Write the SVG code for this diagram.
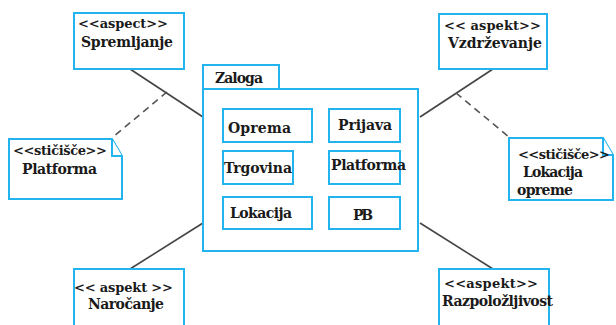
<svg xmlns="http://www.w3.org/2000/svg" width="616" height="325" viewBox="0 0 616 325">
<style>
.b{fill:#fff;stroke:#22b4ee;stroke-width:2}
.t{font-family:"DejaVu Serif","Liberation Serif",serif;font-weight:bold;font-size:14px;fill:#1a1a1a}
.s{font-family:"DejaVu Serif","Liberation Serif",serif;font-weight:bold;font-size:13px;fill:#1a1a1a}
.c{stroke:#444;stroke-width:1.6;fill:none}
.d{stroke:#555;stroke-width:1.6;fill:none;stroke-dasharray:7 5}
</style>
<rect width="616" height="325" fill="#fff"/>
<g id="connectors">
<line class="c" x1="130" y1="69" x2="203" y2="117"/>
<line class="d" x1="167" y1="92" x2="113" y2="137"/>
<line class="c" x1="493" y1="69" x2="420" y2="117"/>
<line class="d" x1="456" y1="93" x2="509" y2="137"/>
<line class="c" x1="130" y1="269" x2="203" y2="223"/>
<line class="c" x1="420" y1="223" x2="493" y2="269"/>
</g>
<g id="zaloga">
<rect class="b" x="203" y="65" width="76" height="24"/>
<rect class="b" x="203" y="89" width="215" height="162"/>
<text class="t" x="215" y="83" textLength="48">Zaloga</text>
</g>
<g id="oprema"><rect class="b" x="223" y="109" width="89" height="33"/><text class="t" x="228" y="133" textLength="63">Oprema</text></g>
<g id="prijava"><rect class="b" x="329" y="109" width="71" height="33"/><text class="t" x="338" y="130" textLength="54">Prijava</text></g>
<g id="trgovina"><rect class="b" x="223" y="151" width="70" height="33"/><text class="t" x="224" y="173" textLength="68">Trgovina</text></g>
<g id="platforma"><rect class="b" x="329" y="151" width="71" height="33"/><text class="t" x="331" y="170" textLength="75">Platforma</text></g>
<g id="lokacija"><rect class="b" x="223" y="197" width="89" height="32"/><text class="t" x="230" y="218" textLength="62">Lokacija</text></g>
<g id="pb"><rect class="b" x="329" y="197" width="71" height="32"/><text class="t" x="353" y="220" textLength="20">PB</text></g>
<g id="spremljanje"><rect class="b" x="74" y="13" width="110" height="56"/><text class="s" x="78" y="28" textLength="90">&lt;&lt;aspect&gt;&gt;</text><text class="t" x="81" y="47" textLength="92">Spremljanje</text></g>
<g id="vzdrzevanje"><rect class="b" x="439" y="14" width="108" height="55"/><text class="s" x="444" y="30" textLength="97">&lt;&lt; aspekt&gt;&gt;</text><text class="t" x="448" y="48" textLength="94">Vzdrževanje</text></g>
<g id="narocanje"><rect class="b" x="74" y="269" width="110" height="60"/><text class="s" x="74" y="292" textLength="99">&lt;&lt; aspekt &gt;&gt;</text><text class="t" x="88" y="309" textLength="76">Naročanje</text></g>
<g id="razpolozljivost"><rect class="b" x="439" y="269" width="110" height="60"/><text class="s" x="444" y="288" textLength="94">&lt;&lt;aspekt&gt;&gt;</text><text class="t" x="442" y="306" textLength="111">Razpoložljivost</text></g>
<g id="note-platforma"><path class="b" d="M9 139 H112 L122 156 V199 H9 Z"/><path class="b" d="M112 139 V156 H122" fill="none"/><text class="s" x="13" y="155" textLength="94">&lt;&lt;stičišče&gt;&gt;</text><text class="t" x="22" y="174" textLength="75">Platforma</text></g>
<g id="note-lokacija"><path class="b" d="M509 138 H603 L613 155 V200 H509 Z"/><path class="b" d="M603 138 V155 H613" fill="none"/><text class="s" x="518" y="159" textLength="92">&lt;&lt;stičišče&gt;&gt;</text><text class="t" x="523" y="177" textLength="60">Lokacija</text><text class="t" x="517" y="195" textLength="56">opreme</text></g>
</svg>
